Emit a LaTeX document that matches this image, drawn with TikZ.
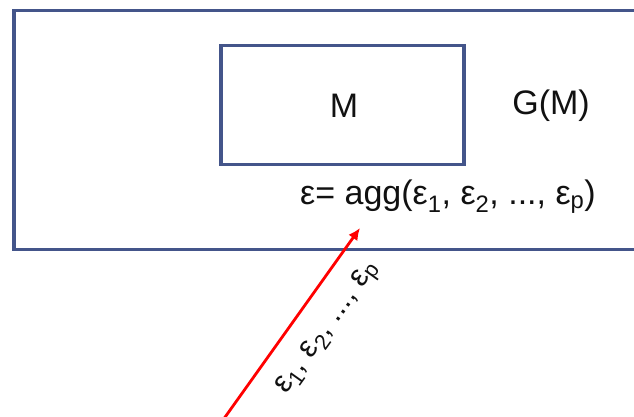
\documentclass[tikz,border=0pt]{standalone}
\usepackage{fontspec}
\setmainfont{Liberation Sans}
\setsansfont{Liberation Sans}
\usetikzlibrary{arrows.meta}

\definecolor{frame}{HTML}{44558A}
\definecolor{flow}{HTML}{FF0000}
\definecolor{ink}{HTML}{111111}

\begin{document}
\begin{tikzpicture}[x=1pt, y=-1pt, font=\sffamily, every node/.style={text=ink}]
  \useasboundingbox (0,0) rectangle (634,417);
  \clip (0,0) rectangle (634,417);

  % The whole graph G(M); its right side runs off the page.
  \draw[frame,line width=3.8pt] (14,10.5) rectangle (660,249.5);
  % The model M sitting inside it.
  \draw[frame,line width=3.5pt] (221,45.5) rectangle (464,164.5);

  \tikzset{big/.style={font=\sffamily\fontsize{34}{40}\selectfont, inner sep=0pt}}
  \node[big] (model) at (344,106) {M};
  \node[big] (graph) at (551,106) {G(M)};
  \node[big] (agg) at (448,197)
    {ε= agg(ε\textsubscript{1}, ε\textsubscript{2}, ..., ε\textsubscript{p})};

  % Incoming errors, drawn from below the page up to the aggregate.
  \coordinate (src) at (218,427);
  \coordinate (tip) at (360,228);
  \draw[flow, line width=2.8pt, -{Latex[length=12pt,width=11pt]}] (src) -- (tip)
    node[pos=.59, sloped, below=19pt, inner sep=0pt, font=\sffamily\fontsize{31}{36}\selectfont]
      (errs) {ε\textsubscript{1}, ε\textsubscript{2}, ..., ε\textsubscript{p}};
\end{tikzpicture}
\end{document}
